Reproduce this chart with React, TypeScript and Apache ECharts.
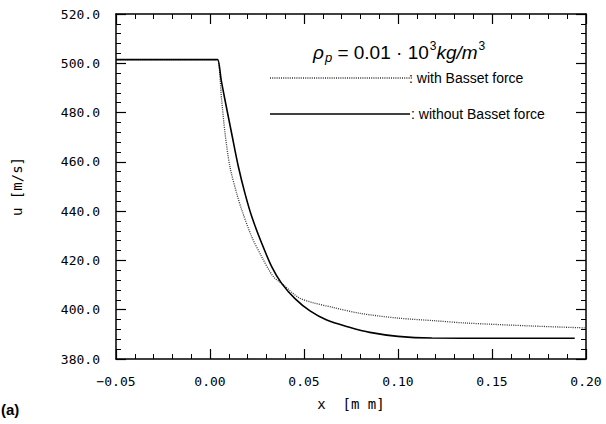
import React, { useEffect, useRef } from "react";
import * as echarts from "echarts";

const xTicks = [-0.05, 0.0, 0.05, 0.1, 0.15, 0.2];
const yTicks = [380, 400, 420, 440, 460, 480, 500, 520];

const withBassetX = [-0.05, 0.003, 0.0041, 0.0062, 0.008, 0.0106, 0.0142, 0.0169, 0.0222, 0.0275, 0.0337, 0.0381, 0.047, 0.055, 0.065, 0.08, 0.1, 0.12, 0.136, 0.171, 0.2];
const withBassetY = [501.5, 501.5, 501.5, 485, 471.6, 458, 447.2, 440.5, 429.6, 421.5, 413.4, 410.7, 405, 402.8, 401, 398.5, 396.6, 395.5, 394.6, 393.4, 392.6];

const withoutBassetX = [-0.05, 0.003, 0.0041, 0.006, 0.008, 0.0115, 0.0151, 0.0186, 0.0222, 0.0275, 0.0328, 0.0381, 0.0452, 0.0532, 0.0621, 0.0737, 0.085, 0.1, 0.118, 0.15, 0.194];
const withoutBassetY = [501.5, 501.5, 501.5, 493, 485, 471.6, 458, 447.2, 437.8, 427, 417.5, 410.7, 404.5, 399.5, 395.8, 393, 390.8, 389.2, 388.5, 388.4, 388.4];

const legendLabels = [": with Basset force", ": without Basset force"];

const zip = (xs: number[], ys: number[]) => xs.map((x, i) => [x, ys[i]]);

export default function App() {
  const ref = useRef<HTMLDivElement>(null);
  useEffect(() => {
    if (!ref.current) return;
    const chart = echarts.init(ref.current, null, { renderer: "svg" });
    const xFmt = (v: number) => {
      if (Math.abs(v) < 1e-9) return "0.00";
      const s = v.toFixed(2);
      return s.replace("-", "\u2212");
    };
    const tickFont = "DejaVu Sans Mono";
    const common = {
      axisLine: { show: true, onZero: false, lineStyle: { color: "#000", width: 1.5 } },
      axisTick: { show: true, inside: true, length: 10, lineStyle: { color: "#000", width: 1.2 } },
      minorTick: { show: true, splitNumber: 5, length: 5, lineStyle: { color: "#000", width: 1 } },
      splitLine: { show: false },
    };
    const xMin = xTicks[0];
    const xMax = xTicks[xTicks.length - 1];
    const yMin = yTicks[0];
    const yMax = yTicks[yTicks.length - 1];
    chart.setOption({
      animation: false,
      backgroundColor: "#fff",
      grid: { left: 116, right: 20, top: 14, bottom: 65 },
      xAxis: [
        {
          type: "value",
          min: xMin,
          max: xMax,
          interval: 0.05,
          position: "bottom",
          ...common,
          axisLabel: {
            formatter: xFmt,
            color: "#000",
            fontFamily: tickFont,
            fontSize: 13,
            margin: 16,
          },
          name: "x  [m m]",
          nameLocation: "middle",
          nameGap: 38,
          nameTextStyle: { color: "#000", fontFamily: tickFont, fontSize: 14 },
        },
        {
          type: "value",
          min: xMin,
          max: xMax,
          interval: 0.05,
          position: "top",
          ...common,
          axisLabel: { show: false },
        },
      ],
      yAxis: [
        {
          type: "value",
          min: yMin,
          max: yMax,
          interval: 20,
          position: "left",
          ...common,
          axisLabel: {
            formatter: (v: number) => v.toFixed(1),
            color: "#000",
            fontFamily: tickFont,
            fontSize: 13,
            margin: 16,
          },
          name: "u [m/s]",
          nameLocation: "middle",
          nameGap: 92,
          nameTextStyle: { color: "#000", fontFamily: tickFont, fontSize: 14 },
        },
        {
          type: "value",
          min: yMin,
          max: yMax,
          interval: 20,
          position: "right",
          ...common,
          axisLabel: { show: false },
        },
      ],
      series: [
        {
          type: "line",
          name: "with Basset force",
          data: zip(withBassetX, withBassetY),
          smooth: 0.3,
          showSymbol: false,
          lineStyle: { color: "#333", width: 1.3, type: [1, 1.2] },
        },
        {
          type: "line",
          name: "without Basset force",
          data: zip(withoutBassetX, withoutBassetY),
          smooth: 0.3,
          showSymbol: false,
          lineStyle: { color: "#000", width: 1.6 },
        },
      ],
      graphic: [
        {
          type: "text",
          left: 313,
          top: 40,
          style: {
            text: "{it|ρ}{sub|p}{n| = 0.01 · 10}{sup|3}{it|kg/m}{sup|3}",
            fill: "#000",
            rich: {
              it: { fontFamily: "Liberation Sans", fontStyle: "italic", fontSize: 19, fill: "#000" },
              n: { fontFamily: "Liberation Sans", fontSize: 19, fill: "#000" },
              sub: { fontFamily: "Liberation Sans", fontStyle: "italic", fontSize: 13, padding: [10, 0, 0, 1], fill: "#000" },
              sup: { fontFamily: "Liberation Sans", fontSize: 12, padding: [0, 0, 13, 1], fill: "#000" },
            },
          },
        },
        {
          type: "line",
          shape: { x1: 270, y1: 78, x2: 412, y2: 78 },
          style: { stroke: "#333", lineWidth: 1.5, lineDash: [1, 1.2] },
        },
        {
          type: "text",
          x: 409,
          y: 78,
          style: { text: legendLabels[0], fill: "#000", fontFamily: "Liberation Sans", fontSize: 14, verticalAlign: "middle" },
        },
        {
          type: "line",
          shape: { x1: 270, y1: 114, x2: 410, y2: 114 },
          style: { stroke: "#000", lineWidth: 1.6 },
        },
        {
          type: "text",
          x: 411,
          y: 114,
          style: { text: legendLabels[1], fill: "#000", fontFamily: "Liberation Sans", fontSize: 14, verticalAlign: "middle" },
        },
        {
          type: "text",
          x: 1,
          y: 409,
          style: { text: "(a)", fill: "#000", fontFamily: "Liberation Sans", fontWeight: "bold", fontSize: 15, verticalAlign: "middle" },
        },
      ],
    });
    return () => chart.dispose();
  }, []);
  return <div ref={ref} style={{ position: "fixed", left: 0, top: 0, width: 606, height: 424 }} />;
}
